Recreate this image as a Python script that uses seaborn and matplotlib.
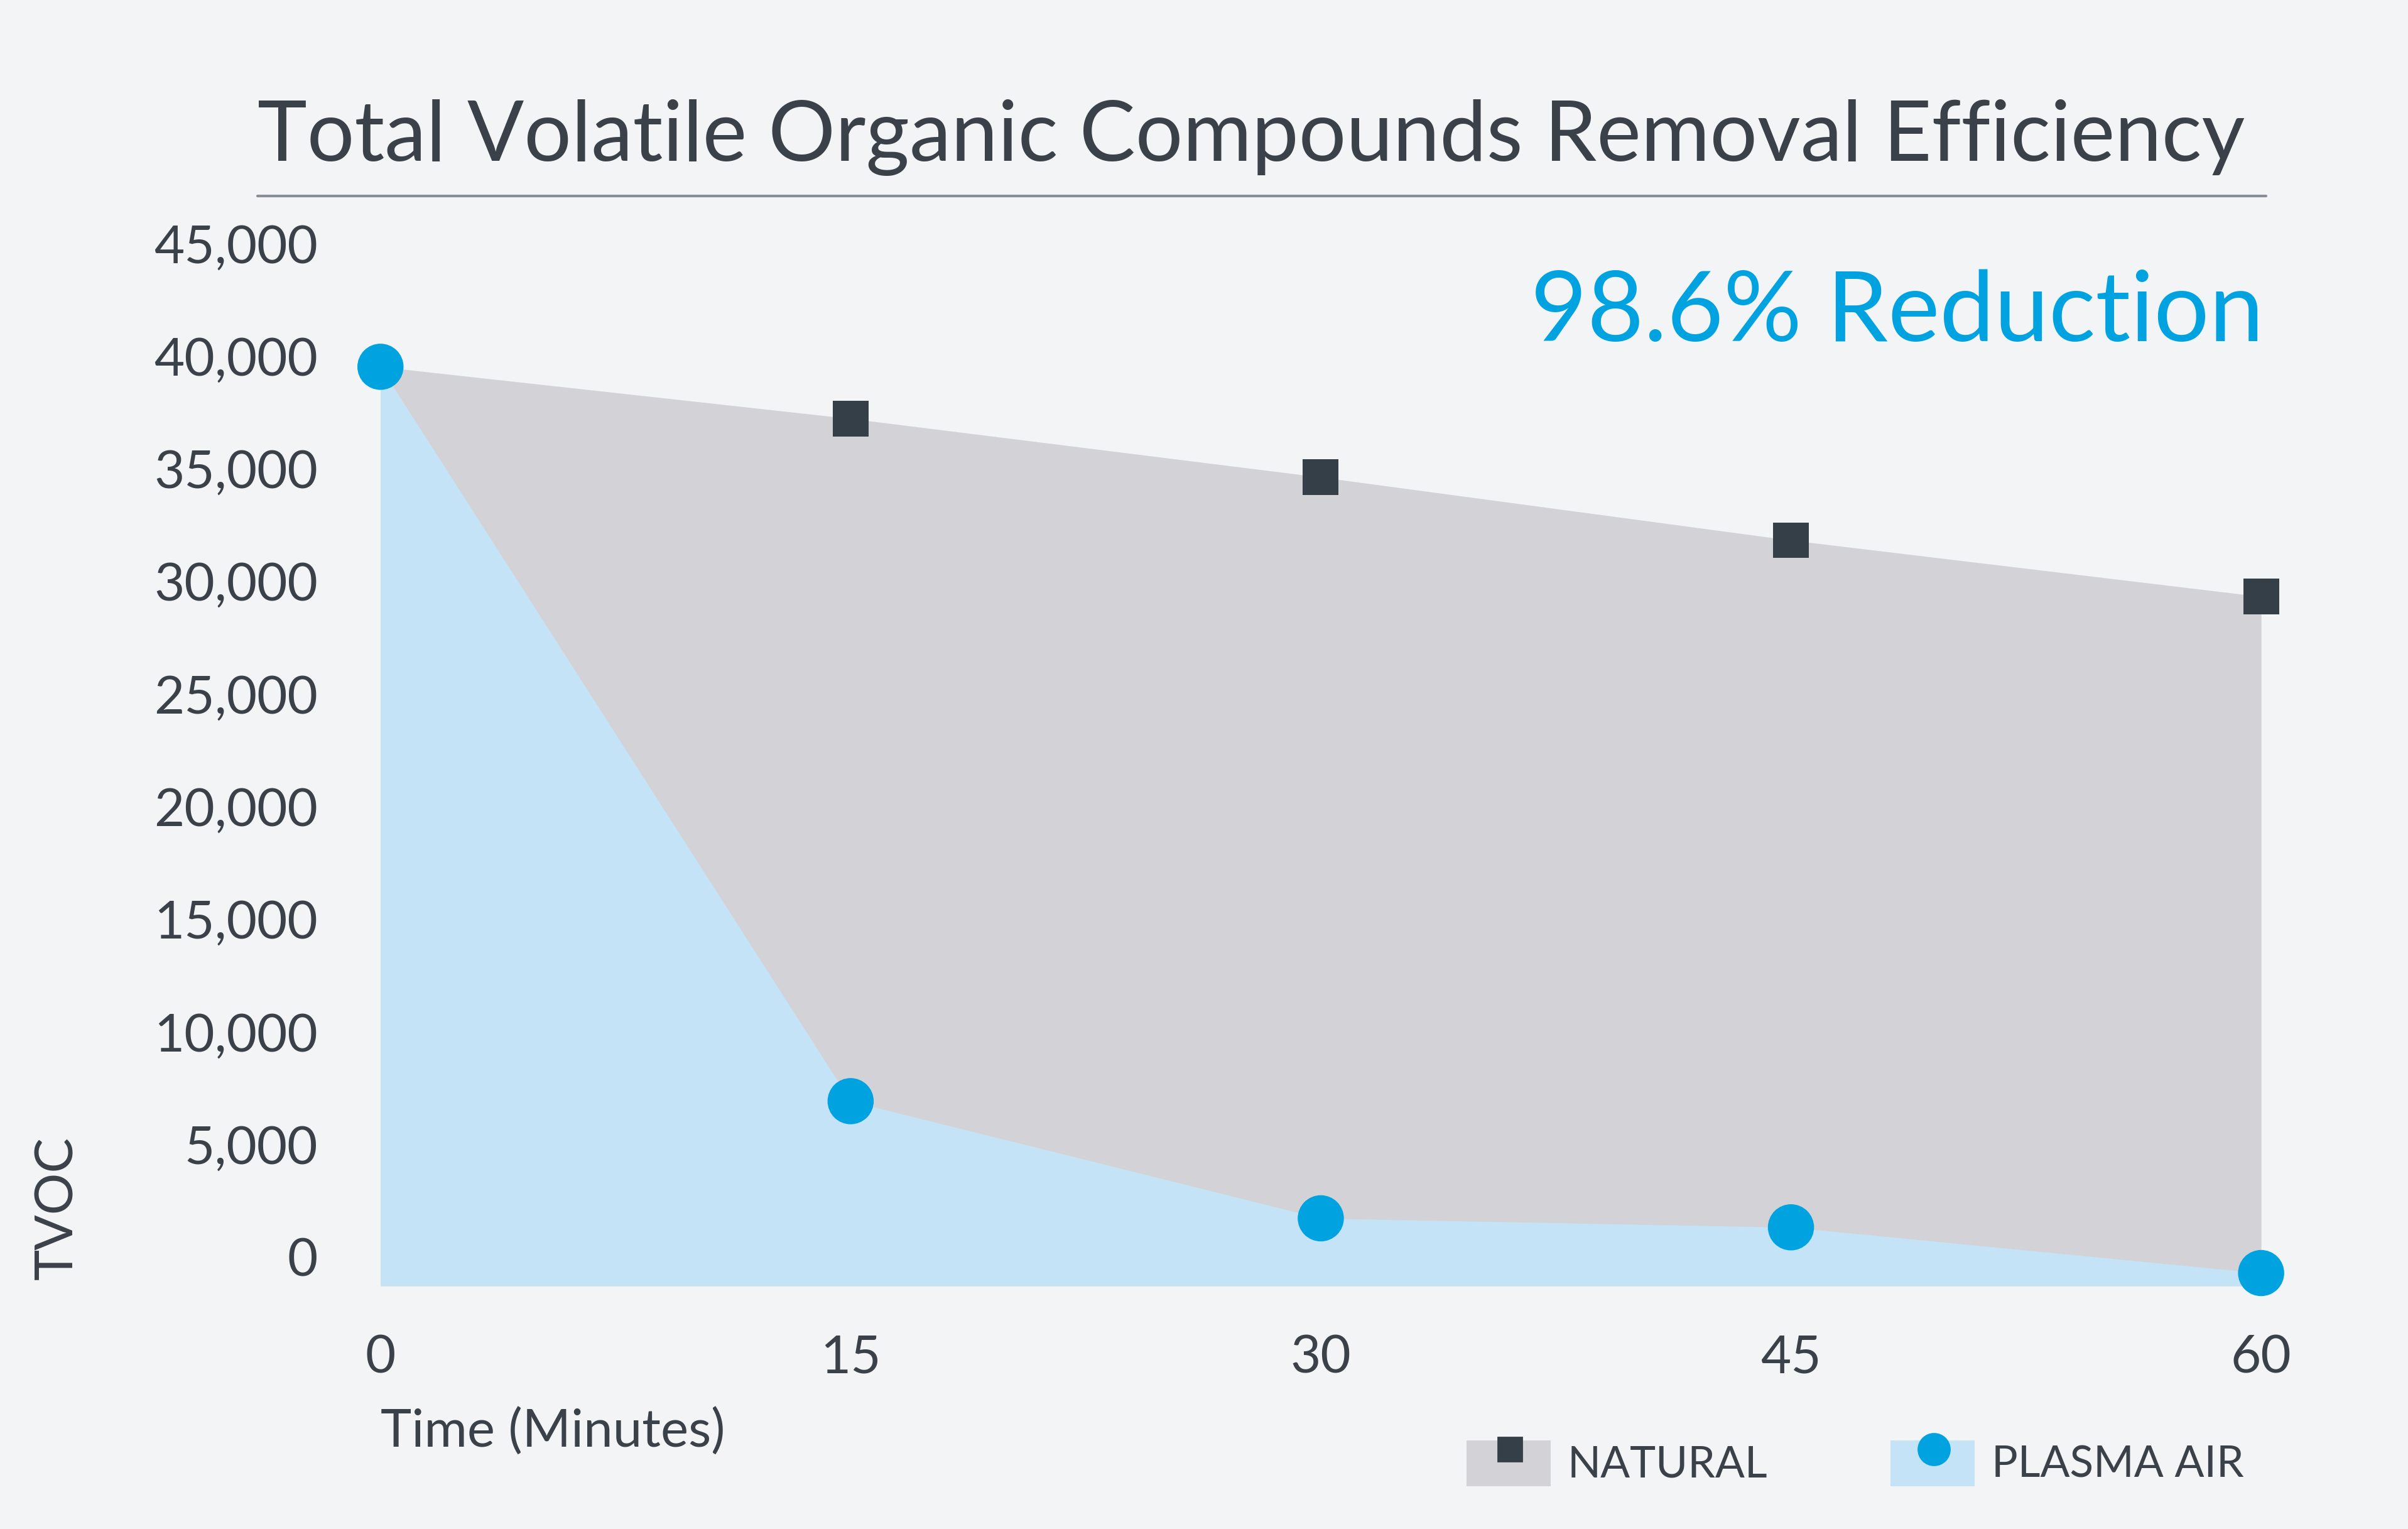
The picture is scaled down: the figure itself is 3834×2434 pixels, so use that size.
import matplotlib
matplotlib.use("Agg")
import matplotlib.pyplot as plt
import seaborn as sns
import pandas as pd
from matplotlib.patches import Rectangle
from matplotlib.lines import Line2D

sns.set_style("white")
plt.rcParams['font.family'] = ['Lato', 'DejaVu Sans']

minutes = [0, 15, 30, 45, 60]
natural = [40800, 38500, 35900, 33100, 30600]
plasma = [40800, 8200, 3000, 2600, 570]
yticks = [0, 5000, 10000, 15000, 20000, 25000, 30000, 35000, 40000, 45000]

BG = "#f3f4f6"
TXT = "#3a4149"
BLUE = "#00a3e0"
DARK = "#353f48"
GREY_FILL = "#d3d3d7"
BLUE_FILL = "#c5e3f6"

df = pd.DataFrame({"minutes": minutes, "natural": natural, "plasma": plasma})

fig = plt.figure(figsize=(19.17, 12.17), dpi=200, facecolor=BG)
ax = fig.add_axes([0.158, 0.159, 0.781, 0.663])
ax.set_facecolor(BG)

ax.fill_between(df["minutes"], 0, df["natural"], color=GREY_FILL, lw=0)
ax.fill_between(df["minutes"], 0, df["plasma"], color=BLUE_FILL, lw=0)
sns.scatterplot(data=df.iloc[1:], x="minutes", y="natural", marker="s", s=420,
                color=DARK, edgecolor="none", ax=ax, clip_on=False, zorder=5)
sns.scatterplot(data=df, x="minutes", y="plasma", marker="o", s=700,
                color=BLUE, edgecolor="none", ax=ax, clip_on=False, zorder=5)

ax.set_xlim(0, 60)
ax.set_ylim(0, 45000)
ax.set_xticks(minutes)
ax.set_xticklabels([str(m) for m in minutes], fontsize=30, color=TXT)
ax.set_yticks(yticks)
ax.set_yticklabels([f"{v:,}" for v in yticks], fontsize=30, color=TXT)
for t in ax.get_yticklabels():
    t.set_va("bottom")
ax.tick_params(axis="y", length=0, pad=36)
ax.tick_params(axis="x", length=0, pad=28)
for s in ax.spines.values():
    s.set_visible(False)
ax.set_xlabel("")
ax.set_ylabel("")

fig.text(0.024, 0.21, "TVOC", rotation=90, fontsize=30, color=TXT, va="center", ha="center")
fig.text(0.158, 0.063, "Time (Minutes)", fontsize=30, color=TXT, va="center", ha="left")
fig.text(0.107, 0.91, "Total Volatile Organic Compounds Removal Efficiency",
         fontsize=48, color=TXT, va="center", ha="left")
fig.add_artist(Line2D([0.107, 0.941], [0.872, 0.872], color="#8a8f95", lw=1.5))
fig.text(0.94, 0.795, "98.6% Reduction", fontsize=56, color=BLUE, va="center", ha="right")

# legend
fig.add_artist(Rectangle((0.609, 0.028), 0.035, 0.030, color=GREY_FILL, lw=0))
fig.add_artist(Line2D([0.627], [0.052], marker="s", ms=14, color=DARK, lw=0))
fig.text(0.651, 0.042, "NATURAL", fontsize=25, color=TXT, va="center", ha="left")
fig.add_artist(Rectangle((0.785, 0.028), 0.035, 0.030, color=BLUE_FILL, lw=0))
fig.add_artist(Line2D([0.803], [0.052], marker="o", ms=18, color=BLUE, lw=0))
fig.text(0.827, 0.042, "PLASMA AIR", fontsize=25, color=TXT, va="center", ha="left")

fig.savefig("out.png", dpi=200, facecolor=BG)
